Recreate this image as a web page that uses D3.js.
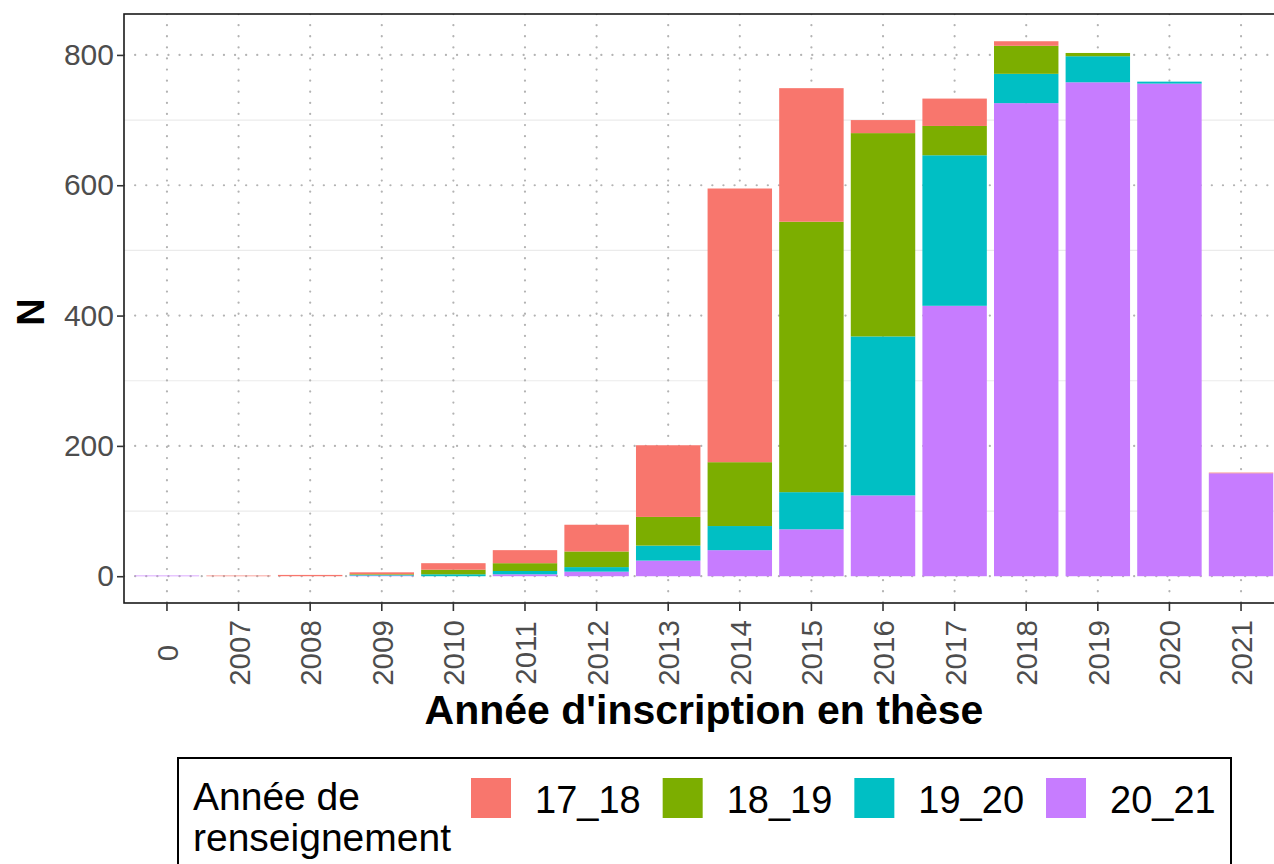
<!DOCTYPE html>
<html>
<head>
<meta charset="utf-8">
<script src="https://cdn.jsdelivr.net/npm/d3@7"></script>
<style>
  body { margin: 0; background: #fff; }
  text { font-family: "Liberation Sans", Arial, sans-serif; }
</style>
</head>
<body>
<svg id="chart"></svg>
<script>
// data
const years = ["0", "2007", "2008", "2009", "2010", "2011", "2012", "2013", "2014", "2015", "2016", "2017", "2018", "2019", "2020", "2021"];
const groups = ["17_18", "18_19", "19_20", "20_21"];
const s17_18 = [0, 1, 2, 3, 10, 20, 41, 110, 420, 205, 20, 42, 7, 0, 0, 1];
const s18_19 = [0, 0, 0, 1, 7, 12, 24, 44, 98, 415, 312, 45, 43, 5, 0, 0];
const s19_20 = [0, 0, 0, 1, 3, 5, 7, 23, 37, 57, 244, 231, 45, 40, 3, 0];
const s20_21 = [1, 0, 0, 1, 0, 3, 7, 24, 40, 72, 124, 415, 726, 758, 756, 158];
const yTicks = [0, 200, 400, 600, 800];
const yMinor = [100, 300, 500, 700];
const colors = ["#F8766D", "#7CAE00", "#00BFC4", "#C77CFF"];

const W = 1274, H = 864;
const margin = { top: 14, left: 124, bottom: 603, right: 1284 };

const svg = d3.select("#chart").attr("width", W).attr("height", H);

// table for stacking
const rows = years.map((y, i) => ({
  year: y, "17_18": s17_18[i], "18_19": s18_19[i], "19_20": s19_20[i], "20_21": s20_21[i]
}));
// ggplot stacks the last level at the bottom
const stack = d3.stack().keys(groups.slice().reverse());
const series = stack(rows);

const x = d3.scaleBand()
  .domain(years)
  .range([margin.left, margin.right])
  .paddingInner(0.1)
  .paddingOuter(0.15);

const y = d3.scaleLinear()
  .domain([-41.1, 862.8])
  .range([margin.bottom, margin.top]);

const color = d3.scaleOrdinal().domain(groups).range(colors);

svg.append("clipPath").attr("id", "panel")
  .append("rect")
  .attr("x", margin.left).attr("y", margin.top)
  .attr("width", margin.right - margin.left).attr("height", margin.bottom - margin.top);

const panel = svg.append("g").attr("clip-path", "url(#panel)");

// minor grid
panel.selectAll(".minor")
  .data(yMinor)
  .join("line")
  .attr("x1", margin.left).attr("x2", margin.right)
  .attr("y1", d => y(d)).attr("y2", d => y(d))
  .attr("stroke", "#ebebeb").attr("stroke-width", 1.2);

// major grid, dotted
panel.selectAll(".majorY")
  .data(yTicks)
  .join("line")
  .attr("x1", margin.left).attr("x2", margin.right)
  .attr("y1", d => y(d)).attr("y2", d => y(d))
  .attr("stroke", "#b3b3b3").attr("stroke-width", 2.2)
  .attr("stroke-linecap", "round")
  .attr("stroke-dasharray", "0.1,11");

panel.selectAll(".majorX")
  .data(years)
  .join("line")
  .attr("x1", d => x(d) + x.bandwidth() / 2).attr("x2", d => x(d) + x.bandwidth() / 2)
  .attr("y1", margin.top).attr("y2", margin.bottom)
  .attr("stroke", "#b3b3b3").attr("stroke-width", 2.2)
  .attr("stroke-linecap", "round")
  .attr("stroke-dasharray", "0.1,11");

// bars
panel.selectAll(".layer")
  .data(series)
  .join("g")
  .attr("fill", d => color(d.key))
  .selectAll("rect")
  .data(d => d)
  .join("rect")
  .attr("x", d => x(d.data.year))
  .attr("width", x.bandwidth())
  .attr("y", d => y(d[1]))
  .attr("height", d => y(d[0]) - y(d[1]));

// panel border
svg.append("rect")
  .attr("x", margin.left).attr("y", margin.top)
  .attr("width", margin.right - margin.left).attr("height", margin.bottom - margin.top)
  .attr("fill", "none").attr("stroke", "#1a1a1a").attr("stroke-width", 1.6);

// y axis
const yAxis = svg.append("g")
  .attr("transform", `translate(${margin.left},0)`)
  .call(d3.axisLeft(y).tickValues(yTicks).tickSize(7).tickPadding(3));
yAxis.select(".domain").remove();
yAxis.selectAll(".tick line").attr("stroke", "#333").attr("stroke-width", 1.6);
yAxis.selectAll(".tick text")
  .attr("font-size", 30).attr("fill", "#4d4d4d")
  .attr("font-family", "Liberation Sans, Arial, sans-serif");

// x axis
const xAxis = svg.append("g")
  .attr("transform", `translate(0,${margin.bottom})`)
  .call(d3.axisBottom(x).tickSize(8).tickPadding(4));
xAxis.select(".domain").remove();
xAxis.selectAll(".tick line").attr("stroke", "#333").attr("stroke-width", 1.6);
xAxis.selectAll(".tick text")
  .attr("font-size", 29.5).attr("fill", "#4d4d4d")
  .attr("font-family", "Liberation Sans, Arial, sans-serif")
  .attr("text-anchor", "middle")
  .attr("dy", null)
  .attr("y", 0)
  .attr("transform", "translate(11,50) rotate(-90)");

// axis titles
svg.append("text")
  .attr("x", 704).attr("y", 724)
  .attr("text-anchor", "middle")
  .attr("font-size", 41).attr("font-weight", "bold")
  .text("Année d'inscription en thèse");

svg.append("text")
  .attr("transform", "translate(44,312) rotate(-90)")
  .attr("text-anchor", "middle")
  .attr("font-size", 38).attr("font-weight", "bold")
  .text("N");

// legend
const legend = svg.append("g");
legend.append("rect")
  .attr("x", 178).attr("y", 758)
  .attr("width", 1053).attr("height", 140)
  .attr("fill", "#fff").attr("stroke", "#000").attr("stroke-width", 2);

legend.append("text").attr("x", 193).attr("y", 810).attr("font-size", 39).text("Année de");
legend.append("text").attr("x", 193).attr("y", 851).attr("font-size", 39).text("renseignement");

let kx = 471;
groups.forEach(g => {
  legend.append("rect")
    .attr("x", kx).attr("y", 778).attr("width", 40).attr("height", 40)
    .attr("fill", color(g));
  const t = legend.append("text")
    .attr("x", kx + 64).attr("y", 813)
    .attr("font-size", 38).text(g);
  kx = kx + 64 + t.node().getComputedTextLength() + 22;
});
</script>
</body>
</html>
